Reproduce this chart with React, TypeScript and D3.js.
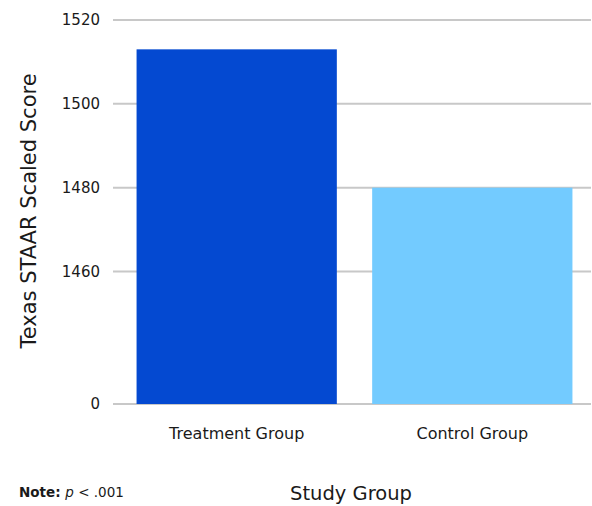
import React, { useRef, useEffect } from 'react';
import * as d3 from 'd3';

const groups = ['Treatment Group', 'Control Group'];
const scores = [1513, 1480];
const colors = ['#0449d1', '#73cbff'];
const tickValues = [0, 1460, 1480, 1500, 1520];

const App: React.FC = () => {
  const svgRef = useRef<SVGSVGElement | null>(null);

  useEffect(() => {
    const svg = d3.select(svgRef.current);
    svg.selectAll('*').remove(); // clear previous content

    const width = 592;
    const height = 506;
    const font = '"DejaVu Sans", sans-serif';

    // sit on the page corner, ignoring the body margin
    svg
      .attr('width', width)
      .attr('height', height)
      .style('position', 'absolute')
      .style('left', 0)
      .style('top', 0);

    // broken axis: 0 at the bottom, then 1460..1520
    const yScale = d3.scaleLinear().domain([0, 1460, 1520]).range([404, 271.5, 20]);

    const xScale = d3
      .scaleBand()
      .domain(groups)
      .range([113, 596])
      .paddingInner(0.15)
      .paddingOuter(0.1);

    // grid lines
    svg
      .append('g')
      .selectAll('line')
      .data(tickValues)
      .enter()
      .append('line')
      .attr('x1', 113)
      .attr('x2', 591)
      .attr('y1', (d) => yScale(d))
      .attr('y2', (d) => yScale(d))
      .attr('stroke', '#c8c8c8')
      .attr('stroke-width', 2);

    // tick labels
    svg
      .append('g')
      .selectAll('text')
      .data(tickValues)
      .enter()
      .append('text')
      .attr('x', 100)
      .attr('y', (d) => yScale(d))
      .attr('dy', '0.35em')
      .attr('text-anchor', 'end')
      .style('font-family', font)
      .style('font-size', '15px')
      .attr('fill', '#1a1a1a')
      .text((d) => String(d));

    // bars
    svg
      .append('g')
      .selectAll('rect')
      .data(groups)
      .enter()
      .append('rect')
      .attr('x', (d) => xScale(d)!)
      .attr('y', (_d, i) => yScale(scores[i]))
      .attr('width', xScale.bandwidth())
      .attr('height', (_d, i) => yScale(0) - yScale(scores[i]))
      .attr('fill', (_d, i) => colors[i]);

    // category labels
    svg
      .append('g')
      .selectAll('text')
      .data(groups)
      .enter()
      .append('text')
      .attr('x', (d) => xScale(d)! + xScale.bandwidth() / 2)
      .attr('y', 439)
      .attr('text-anchor', 'middle')
      .style('font-family', font)
      .style('font-size', '16px')
      .attr('fill', '#1a1a1a')
      .text((d) => d);

    // axis titles
    svg
      .append('text')
      .attr('transform', 'translate(36, 211) rotate(-90)')
      .attr('text-anchor', 'middle')
      .style('font-family', font)
      .style('font-size', '21px')
      .attr('fill', '#1a1a1a')
      .text('Texas STAAR Scaled Score');

    svg
      .append('text')
      .attr('x', 351)
      .attr('y', 500)
      .attr('text-anchor', 'middle')
      .style('font-family', font)
      .style('font-size', '19.5px')
      .attr('fill', '#1a1a1a')
      .text('Study Group');

    const note = svg
      .append('text')
      .attr('x', 19)
      .attr('y', 497)
      .style('font-family', font)
      .style('font-size', '13.5px')
      .attr('fill', '#1a1a1a');
    note.append('tspan').style('font-weight', 'bold').text('Note: ');
    note.append('tspan').style('font-style', 'italic').text('p');
    note.append('tspan').text(' < .001');
  }, []);

  return <svg ref={svgRef}></svg>;
};

export default App;
